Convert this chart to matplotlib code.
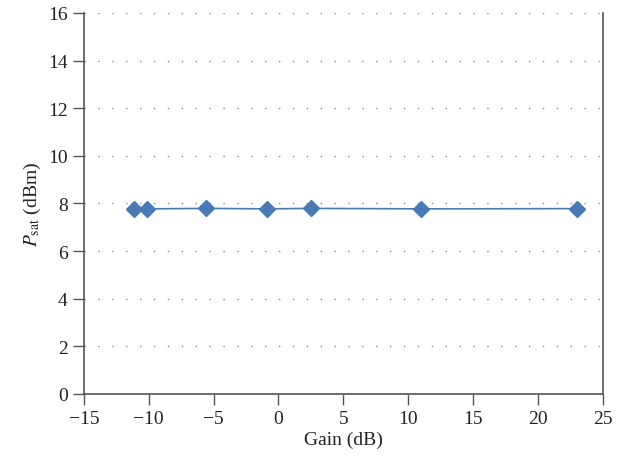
import matplotlib
matplotlib.use('Agg')
import matplotlib.pyplot as plt

# Data
gain_db = [-11.1, -10.1, -5.6, -0.9, 2.5, 11.0, 23.0]
psat_dbm = [7.76, 7.77, 7.79, 7.77, 7.79, 7.77, 7.78]

x_ticks = [-15, -10, -5, 0, 5, 10, 15, 20, 25]
y_ticks = [0, 2, 4, 6, 8, 10, 12, 14, 16]

plt.rcParams['font.family'] = ['Liberation Serif', 'DejaVu Serif']
plt.rcParams['mathtext.fontset'] = 'stix'

fig = plt.figure(figsize=(6.3, 4.64), dpi=100)
ax = fig.add_axes([0.133, 0.149, 0.824, 0.821])

ax.plot(gain_db, psat_dbm, color='#4a7ab5', linewidth=1.2, marker='D',
        markersize=8, markerfacecolor='#4a7ab5', markeredgecolor='#4a7ab5')

ax.set_xlim(-15, 25)
ax.set_ylim(0, 16)
ax.set_xticks(x_ticks)
ax.set_yticks(y_ticks)
ax.set_xticklabels([f'\u2212{abs(t)}' if t < 0 else str(t) for t in x_ticks])

ax.yaxis.grid(True, color='#888888', linestyle=(0, (1, 9)), linewidth=1.0)
ax.set_axisbelow(True)

ax.spines['top'].set_visible(False)
for s in ['left', 'bottom', 'right']:
    ax.spines[s].set_color('#555555')
    ax.spines[s].set_linewidth(1.2)

ax.tick_params(axis='both', direction='out', length=8, width=1.0,
               color='#555555', labelsize=14, labelcolor='#222222')
ax.tick_params(axis='y', right=False)

ax.set_xlabel('Gain (dB)', fontsize=14, color='#222222', labelpad=3)
ax.set_ylabel(r'$P_{\mathrm{sat}}$ (dBm)', fontsize=14, color='#222222')

fig.savefig('out.png', dpi=100)
